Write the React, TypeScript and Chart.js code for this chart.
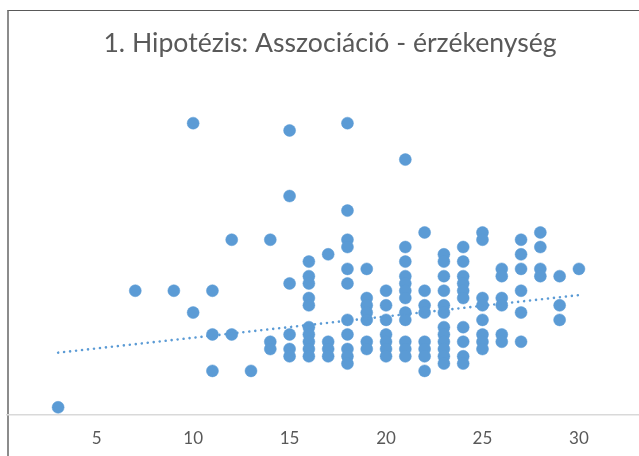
import React, { useEffect, useRef } from "react";
import { Chart, registerables } from "chart.js";

Chart.register(...registerables);

// x value of each column of points
const columnX = [3, 7, 9, 10, 11, 12, 13, 14, 15, 16, 17, 18, 19, 20, 21, 22, 23, 24, 25, 26, 27, 28, 29, 30];
// y values of the points in each column (same order as columnX)
const columnY = [
  [1],
  [17],
  [17],
  [40, 14],
  [17, 11, 6],
  [24, 11],
  [6],
  [24, 10, 9],
  [39, 30, 18, 11, 9, 8],
  [21, 19, 18, 16, 15, 12, 11, 10, 9, 8],
  [22, 10, 9, 8],
  [40, 28, 24, 23, 20, 18, 13, 11, 9, 8, 7],
  [20, 16, 15, 14, 13, 10, 9],
  [17, 15, 13, 11, 10, 9, 8],
  [35, 23, 21, 19, 18, 17, 16, 14, 13, 10, 9, 8],
  [25, 17, 15, 14, 10, 9, 8, 6],
  [22, 21, 19, 17, 15, 14, 12, 11, 10, 9, 8, 7],
  [23, 21, 19, 18, 17, 16, 12, 10, 8, 7],
  [25, 24, 16, 15, 13, 11, 10, 9],
  [20, 19, 16, 15, 11, 10],
  [24, 22, 20, 17, 14, 10],
  [25, 23, 20, 19],
  [19, 15, 13],
  [20],
];

// linear trendline endpoints
const trendX = [3, 30];
const trendY = [8.5, 16.4];

const xTicks = [5, 10, 15, 20, 25, 30];
const titleText = "1. Hipotézis: Asszociáció - érzékenység";

const X_MIN = 0.35;
const X_MAX = 33.84;
const Y_MIN = 0;
const Y_MAX = 44.55;

export default function App() {
  const canvasRef = useRef<HTMLCanvasElement | null>(null);

  useEffect(() => {
    const canvas = canvasRef.current;
    if (!canvas) return;

    const points: { x: number; y: number }[] = [];
    columnX.forEach((x, i) => {
      columnY[i].forEach((y) => points.push({ x, y }));
    });
    const trend = trendX.map((x, i) => ({ x, y: trendY[i] }));

    const chart = new Chart(canvas, {
      type: "scatter",
      data: {
        datasets: [
          {
            type: "line",
            data: trend,
            borderColor: "#5b9bd5",
            borderWidth: 2.6,
            borderDash: [0.01, 6],
            borderCapStyle: "round",
            pointRadius: 0,
            fill: false,
            showLine: true,
            order: 1,
          } as any,
          {
            data: points,
            backgroundColor: "#5b9bd5",
            borderColor: "#5b9bd5",
            borderWidth: 0.5,
            pointRadius: 6,
            pointHoverRadius: 6,
            order: 2,
          },
        ],
      },
      options: {
        animation: false,
        responsive: false,
        devicePixelRatio: 1,
        clip: false as any,
        layout: { autoPadding: false, padding: { left: 7, right: 0, top: 0, bottom: 7 } },
        plugins: {
          legend: { display: false },
          tooltip: { enabled: false },
          title: {
            display: true,
            text: titleText,
            color: "#595959",
            font: { family: "Lato", size: 26.6, weight: "normal" as any, lineHeight: 1.2 },
            padding: { top: 27, bottom: 31.1 },
          },
        },
        scales: {
          x: {
            type: "linear",
            min: X_MIN,
            max: X_MAX,
            afterBuildTicks: (scale: any) => {
              scale.ticks = xTicks.map((v) => ({ value: v }));
            },
            afterFit: (scale: any) => {
              scale.paddingLeft = 0;
              scale.paddingRight = 0;
            },
            grid: { display: false, drawTicks: false },
            border: { display: true, color: "#d9d9d9", width: 1.5 },
            ticks: {
              padding: 14,
              color: "#595959",
              font: { family: "Lato", size: 17, lineHeight: 1.2 },
            },
          },
          y: {
            type: "linear",
            display: false,
            min: Y_MIN,
            max: Y_MAX,
          },
        },
      },
    });

    return () => chart.destroy();
  }, []);

  return (
    <div
      style={{
        position: "fixed",
        left: 0,
        top: 0,
        width: 639,
        height: 456,
        overflow: "hidden",
        background: "#ffffff",
      }}
    >
      <div
        style={{
          position: "absolute",
          left: 7,
          top: 10,
          width: 700,
          height: 500,
          borderLeft: "2px solid #8c8c8c",
          borderTop: "1px solid #595959",
        }}
      />
      <canvas
        ref={canvasRef}
        width={653}
        height={470}
        style={{ position: "absolute", left: 0, top: 0 }}
      />
    </div>
  );
}
